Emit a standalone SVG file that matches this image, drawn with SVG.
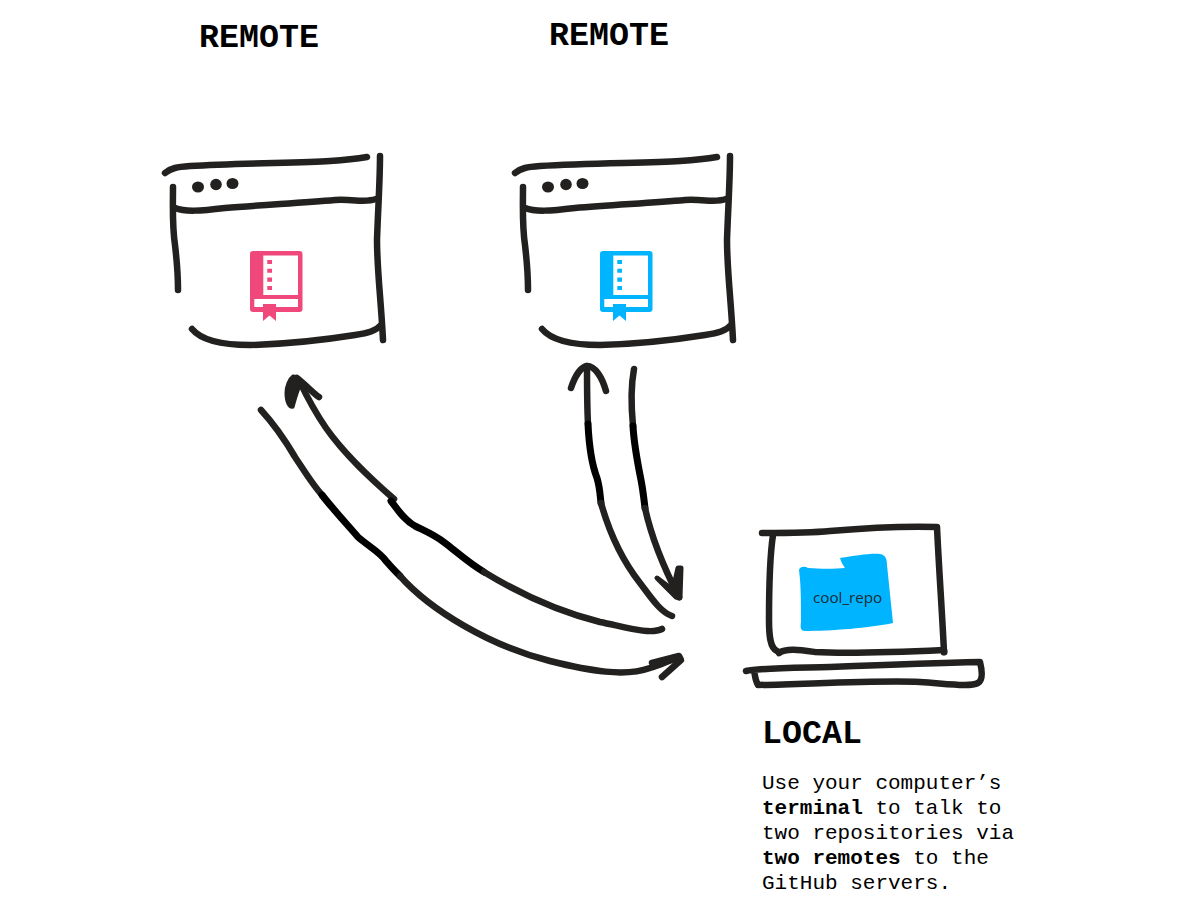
<svg xmlns="http://www.w3.org/2000/svg" width="1200" height="923" viewBox="0 0 1200 923">
<style>
.s{fill:none;stroke:#22211f;stroke-width:6.500;stroke-linecap:round;stroke-linejoin:round}
.k{fill:none;stroke:#000;stroke-width:7;stroke-linecap:round;stroke-linejoin:round}
.f{fill:#22211f}
.h{font:bold 33.3px "Liberation Mono",monospace;fill:#000}
.b{font:21px "Liberation Mono",monospace;fill:#000}
.b tspan.e{font-weight:bold}
</style>
<defs>
<g id="win">
<path class="s" d="M165 173C171 168 177 167 190 166C240 163 300 163 330 161C345 160 355 159 367 157"/>
<path class="s" d="M380 156C380 180 378 210 377 240C377 270 381 300 383 340"/>
<path class="s" d="M173 187C173 205 172 225 175 245C177 262 178 275 178 290"/>
<path class="s" d="M175 208C185 212 200 211 225 208C260 205 300 203 335 200C355 199 365 203 376 199"/>
<path class="s" d="M192 329C201 340 220 345 250 345C290 344 330 339 355 335C368 333 376 331 381 325"/>
<ellipse class="f" cx="198" cy="187" rx="6" ry="5.500"/>
<circle class="f" cx="216" cy="184.500" r="5.800"/>
<ellipse class="f" cx="232.500" cy="183.500" rx="6" ry="5.500"/>
</g>
<path id="book" fill-rule="evenodd" d="M253 251H299.500Q302.500 251 302.500 254V309Q302.500 312 299.500 312H276V321L269.500 315.500L263 321V312H253Q250 312 250 309V254Q250 251 253 251ZM263.300 255.500V295H298V255.500ZM254.300 299V307H263V304H276V307H298V299ZM267.300 260V264H272V260ZM267.300 268.700V272.700H272V268.700ZM267.300 277.500V281.700H272V277.500ZM267.300 286V290H272V286Z"/>
</defs>
<g id="remote-left">
<use href="#win"/>
<use href="#book" fill="#f1487b"/>
<text class="h" x="199" y="47">REMOTE</text>
</g>
<g id="remote-right">
<use href="#win" x="350"/>
<use href="#book" x="350" fill="#00b4ff"/>
<text class="h" x="549" y="45">REMOTE</text>
</g>
<g id="local">
<path class="s" d="M762 533C790 533 810 533 830 531C865 528 905 526 937 527C939 570 942 610 944 652"/>
<path class="s" d="M773 535C770 555 769 590 769 620C769 635 770 648 777 651"/>
<path class="s" d="M779 653C786 648 800 650 815 652C850 654 900 652 944 650"/>
<path class="s" d="M746 671C760 668 790 668 830 667C880 665 930 663 980 662C982 670 983 680 978 683C970 687 950 684 920 682C880 680 810 684 758 685C755 680 755 675 754 670"/>
<circle class="f" cx="944" cy="652" r="3.500"/>
<path fill="#00b4ff" d="M799 570C800 566 805 566 808 568C820 569 835 569 845 568C843 565 841 562 840 558C855 556 870 553 880 554C886 555 887 560 887 565L893 623C870 628 830 631 805 631C801 631 800 628 801 622C801 600 801 585 799 570Z"/>
<text x="813" y="603" font-family="'Open Sans',sans-serif" font-size="15.200" fill="#1f2a33">cool_repo</text>
<text class="h" x="762" y="743">LOCAL</text>
<text class="b"><tspan x="762" y="789">Use your computer’s</tspan><tspan x="762" y="814" class="e">terminal</tspan><tspan> to talk to</tspan><tspan x="762" y="839">two repositories via</tspan><tspan x="762" y="864" class="e">two remotes</tspan><tspan> to the</tspan><tspan x="762" y="889">GitHub servers.</tspan></text>
</g>
<g id="connectors">
<path class="s" d="M261 410C272 422 285 440 295 457C303 469 312 484 322 495"/>
<path class="k" d="M322 495C332 508 345 522 358 537C368 546 380 552 386 561C392 568 396 572 400 576"/>
<path class="s" d="M400 576C430 610 490 646 550 661C590 671 625 677 650 668C660 665 668 661 678 658"/>
<path class="s" stroke-width="7" d="M652 663L679 656L681 660L662 677"/>
<path class="s" d="M394 499C370 478 345 455 326 428C315 412 306 395 299 380"/>
<path class="s" d="M297 378C306 385 313 393 319 397"/>
<path class="f" stroke="#22211f" stroke-width="3" stroke-linejoin="round" d="M293 376C298 376 301 381 300 386C297 392 295 400 293 407C289 408 286 402 286 393C286 386 289 379 293 376Z"/>
<path class="k" d="M391 501C398 510 404 520 415 526C425 531 435 535 445 543C458 553 470 564 484 572"/>
<path class="s" d="M484 572C520 594 560 612 600 622C625 627 650 635 662 629"/>
<path class="s" d="M588 424C587 405 587 385 587 366"/>
<path class="s" d="M571 388C575 376 581 367 587 366C595 366 602 377 606 391"/>
<path class="k" d="M588 424C589 445 592 465 597 478C600 488 600 495 601 503"/>
<path class="s" d="M601 503C610 535 622 560 640 583C650 596 660 612 672 616"/>
<path class="s" d="M634 369C631 385 631 405 633 426"/>
<path class="k" d="M633 426C634 445 638 465 641 480C643 490 644 500 645 508"/>
<path class="s" d="M645 508C652 540 665 570 679 597"/>
<path class="f" stroke="#22211f" stroke-width="5" stroke-linejoin="round" d="M657 578L673 590L678 568L681 568L680 598L676 597Z"/>
</g>
</svg>
